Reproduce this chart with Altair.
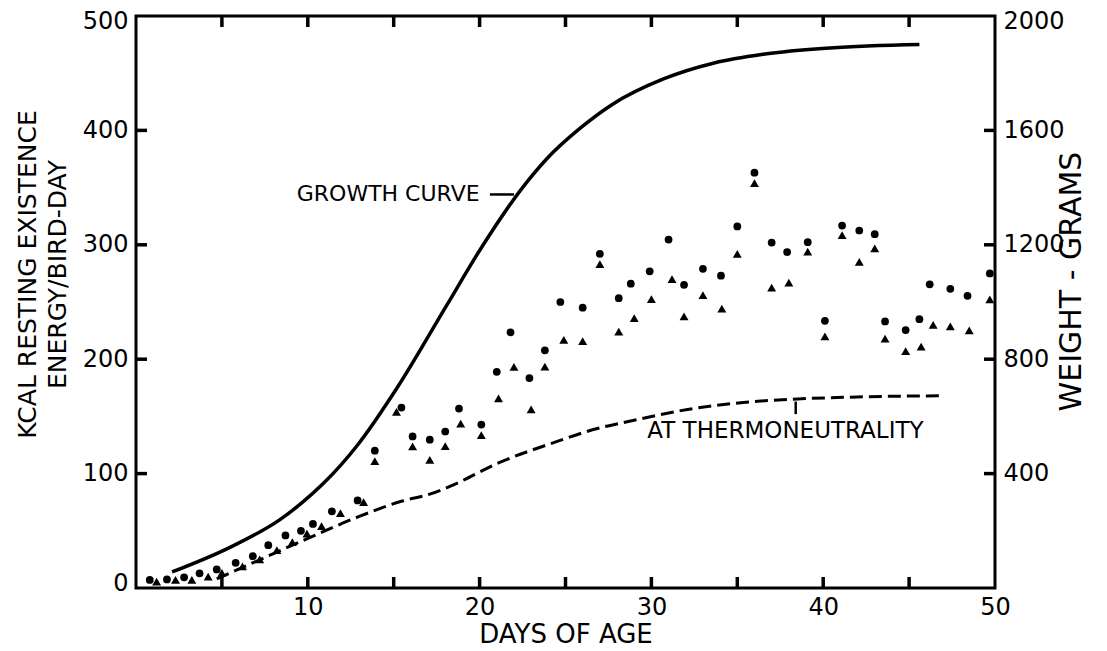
import altair as alt
import pandas as pd

# ---- data ----
# growth curve (right axis, grams)
growth_day = [2.1, 5.5, 8.4, 9.7, 10.9, 12.9, 15.2, 18.1, 20.0, 22.5, 23.9, 25.8, 27.7, 30.7, 33.6, 36.5, 40.4, 45.6]
growth_g = [56, 143, 240, 300, 365, 500, 700, 990, 1180, 1400, 1500, 1605, 1690, 1780, 1835, 1866, 1888, 1900]

# energy at thermoneutrality (left axis, kcal)
thermo_day = [4.7, 7.4, 10.1, 12.9, 15.5, 17.1, 18.3, 21.2, 24.1, 27.0, 28.2, 32.1, 35.2, 38.2, 42.0, 47.0]
thermo_kcal = [8, 26, 44, 62, 76, 82, 89, 110, 126, 140, 144, 156, 162, 165, 167, 168]

# circles (kcal)
circle_day = [0.8, 1.8, 2.8, 3.7, 4.7, 5.8, 6.8, 7.7, 8.7, 9.6, 10.3, 11.4, 12.9, 13.9, 15.45,
              16.1, 17.1, 18.0, 18.8, 20.1, 21.0, 21.8, 22.9, 23.8, 24.7, 26.0, 27.0, 28.1, 28.8,
              29.9, 31.0, 31.9, 33.0, 34.05, 35.0, 36.0, 37.0, 37.9, 39.1, 40.1, 41.1, 42.1, 43.0,
              43.6, 44.8, 45.6, 46.2, 47.4, 48.4, 49.7]
circle_kcal = [7, 7.5, 9.3, 12.8, 16.2, 22, 27.8, 37.4, 46, 50, 56, 67, 76.5, 120, 157.7,
               132.5, 129.6, 136.8, 156.8, 142.9, 189, 223.5, 183.5, 207.8, 250, 245, 292, 253.3, 266,
               276.8, 304.6, 265, 279, 273, 316, 363, 302, 293.6, 302.3, 233.6, 316.8, 312.5, 309.3,
               233, 225.5, 235, 265.5, 261.5, 255.4, 275]

# triangles (kcal)
tri_day = [1.2, 2.3, 3.25, 4.2, 5.0, 6.2, 7.2, 8.2, 9.1, 9.95, 10.8, 11.9, 13.25, 13.9, 15.16,
           16.1, 17.1, 18.0, 18.9, 20.1, 21.1, 22.0, 23.0, 23.8, 24.9, 26.0, 27.0, 28.1, 29.0,
           30.0, 31.2, 31.9, 33.0, 34.1, 35.0, 36.0, 37.0, 38.0, 39.1, 40.1, 41.1, 42.1, 43.0,
           43.6, 44.8, 45.7, 46.4, 47.4, 48.5, 49.7]
tri_kcal = [5.5, 7, 7, 9.9, 13.3, 19, 25, 33, 40, 47.5, 54, 65.5, 75, 111, 154,
            123.7, 112, 124, 143.7, 133.6, 165.8, 193.3, 156.2, 193.6, 217, 215.7, 283, 224, 236,
            252.5, 270, 237.4, 256, 244.3, 292, 354, 262.5, 267, 294, 220, 308.4, 285, 296.8,
            218, 207, 211, 230, 228.7, 225.2, 252.4]

# axes
day_labels = [10, 20, 30, 40, 50]
day_ticks = [5, 10, 15, 20, 25, 30, 35, 40, 45]
kcal_labels = [0, 100, 200, 300, 400, 500]
kcal_ticks = [100, 200, 300, 400]
weight_labels = [400, 800, 1200, 1600, 2000]

# annotations
label_text = ["GROWTH CURVE", "AT THERMONEUTRALITY"]
label_day = [20.0, 37.8]
label_kcal = [344, 137]
pointer_day = [20.6, 38.4]
pointer_day2 = [22.0, 38.4]
pointer_kcal = [344, 152]
pointer_kcal2 = [344, 163]

NUM = "DejaVu Sans"
TXT = "DejaVu Sans"
INK = "#000000"

W, H = 859, 572
X_MAX, K_MAX, G_MAX = 50, 500, 2000
TICK_PX = 11
tick_dx = TICK_PX * X_MAX / W      # tick length in day units
tick_dk = TICK_PX * K_MAX / H      # tick length in kcal units

growth = pd.DataFrame({"day": growth_day, "g": growth_g})
thermo = pd.DataFrame({"day": thermo_day, "kcal": thermo_kcal})
circles = pd.DataFrame({"day": circle_day, "kcal": circle_kcal})
tris = pd.DataFrame({"day": tri_day, "kcal": tri_kcal})
lab_r = pd.DataFrame({"day": label_day[:1], "kcal": label_kcal[:1], "text": label_text[:1]})
lab_c = pd.DataFrame({"day": label_day[1:], "kcal": label_kcal[1:], "text": label_text[1:]})
pointers = pd.DataFrame({"day": pointer_day, "day2": pointer_day2,
                         "kcal": pointer_kcal, "kcal2": pointer_kcal2})

# inward tick marks, one small table per side of the frame
bottom_t = pd.DataFrame({"day": [float(d) for d in day_ticks], "day2": [float(d) for d in day_ticks],
                         "kcal": [0.0] * len(day_ticks), "kcal2": [tick_dk] * len(day_ticks)})
top_t = pd.DataFrame({"day": [float(d) for d in day_ticks], "day2": [float(d) for d in day_ticks],
                      "kcal": [float(K_MAX)] * len(day_ticks), "kcal2": [K_MAX - tick_dk] * len(day_ticks)})
left_t = pd.DataFrame({"day": [0.0] * len(kcal_ticks), "day2": [tick_dx] * len(kcal_ticks),
                       "kcal": [float(k) for k in kcal_ticks], "kcal2": [float(k) for k in kcal_ticks]})
right_t = pd.DataFrame({"day": [float(X_MAX)] * len(kcal_ticks), "day2": [X_MAX - tick_dx] * len(kcal_ticks),
                        "kcal": [float(k) for k in kcal_ticks], "kcal2": [float(k) for k in kcal_ticks]})

x_scale = alt.Scale(domain=[0, X_MAX], nice=False, zero=False)
k_scale = alt.Scale(domain=[0, K_MAX], nice=False)
g_scale = alt.Scale(domain=[0, G_MAX], nice=False)

x_axis = alt.Axis(values=day_labels, domain=False, grid=False, ticks=False,
                  labelFont=NUM, labelFontSize=24, labelColor="black", labelPadding=7,
                  labelFlush=False, labelOverlap=False, title="DAYS OF AGE", titleFont=TXT,
                  titleFontSize=26, titleFontWeight="normal", titleColor="black", titlePadding=2)

y_axis = alt.Axis(values=kcal_labels, orient="left", domain=False, grid=False, ticks=False,
                  labelFont=NUM, labelFontSize=24, labelColor="black", labelPadding=8,
                  labelFlush=True, labelFlushOffset=7, labelOverlap=False,
                  title=["KCAL RESTING EXISTENCE", "ENERGY/BIRD-DAY"], titleFont=TXT, titleFontSize=25,
                  titleFontWeight="normal", titleColor="black", titlePadding=12, titleLineHeight=30,
                  titleY=258)

g_axis = alt.Axis(values=weight_labels, orient="right", format="d", domain=False, grid=False, ticks=False,
                  labelFont=NUM, labelFontSize=24, labelColor="black", labelPadding=8,
                  labelFlush=True, labelFlushOffset=7, labelOverlap=False,
                  title="WEIGHT - GRAMS", titleFont=TXT, titleFontSize=30, titleFontWeight="normal",
                  titleColor="black", titlePadding=22, titleAngle=270, titleY=265)


def X(f="day"):
    return alt.X(f"{f}:Q", scale=x_scale, axis=x_axis)


def Yk(f="kcal"):
    return alt.Y(f"{f}:Q", scale=k_scale, axis=y_axis)


def tick_layer(df):
    return alt.Chart(df).mark_rule(color=INK, strokeWidth=3.5).encode(
        x=X(), x2="day2:Q", y=Yk(), y2="kcal2:Q")


thermo_line = alt.Chart(thermo).mark_line(color=INK, strokeWidth=3, strokeDash=[13, 6],
                                          interpolate="monotone").encode(x=X(), y=Yk())
circ = alt.Chart(circles).mark_point(shape="circle", filled=True, color=INK, size=60,
                                     opacity=1).encode(x=X(), y=Yk())
tri = alt.Chart(tris).mark_point(shape="triangle-up", filled=True, color=INK, size=80,
                                 opacity=1).encode(x=X(), y=Yk())
txt_r = alt.Chart(lab_r).mark_text(font=TXT, fontSize=22, align="right",
                                   baseline="middle", color=INK).encode(x=X(), y=Yk(), text="text:N")
txt_c = alt.Chart(lab_c).mark_text(font=TXT, fontSize=23, align="center",
                                   baseline="middle", color=INK).encode(x=X(), y=Yk(), text="text:N")
ptr = alt.Chart(pointers).mark_rule(color=INK, strokeWidth=2.5).encode(
    x=X(), x2="day2:Q", y=Yk(), y2="kcal2:Q")

left = alt.layer(thermo_line, circ, tri, txt_r, txt_c, ptr,
                 tick_layer(bottom_t), tick_layer(top_t), tick_layer(left_t), tick_layer(right_t))

growth_line = alt.Chart(growth).mark_line(color=INK, strokeWidth=3.5, interpolate="monotone").encode(
    x=X(), y=alt.Y("g:Q", scale=g_scale, axis=g_axis))

chart = alt.layer(left, growth_line).resolve_scale(y="independent").properties(
    width=W, height=H,
    autosize=alt.AutoSizeParams(type="none"),
    padding={"left": 128, "top": 8, "right": 104, "bottom": 63},
    background="white",
).configure_view(stroke="black", strokeWidth=3)

chart.save("out.html", embed_options={"renderer": "svg", "actions": False})
